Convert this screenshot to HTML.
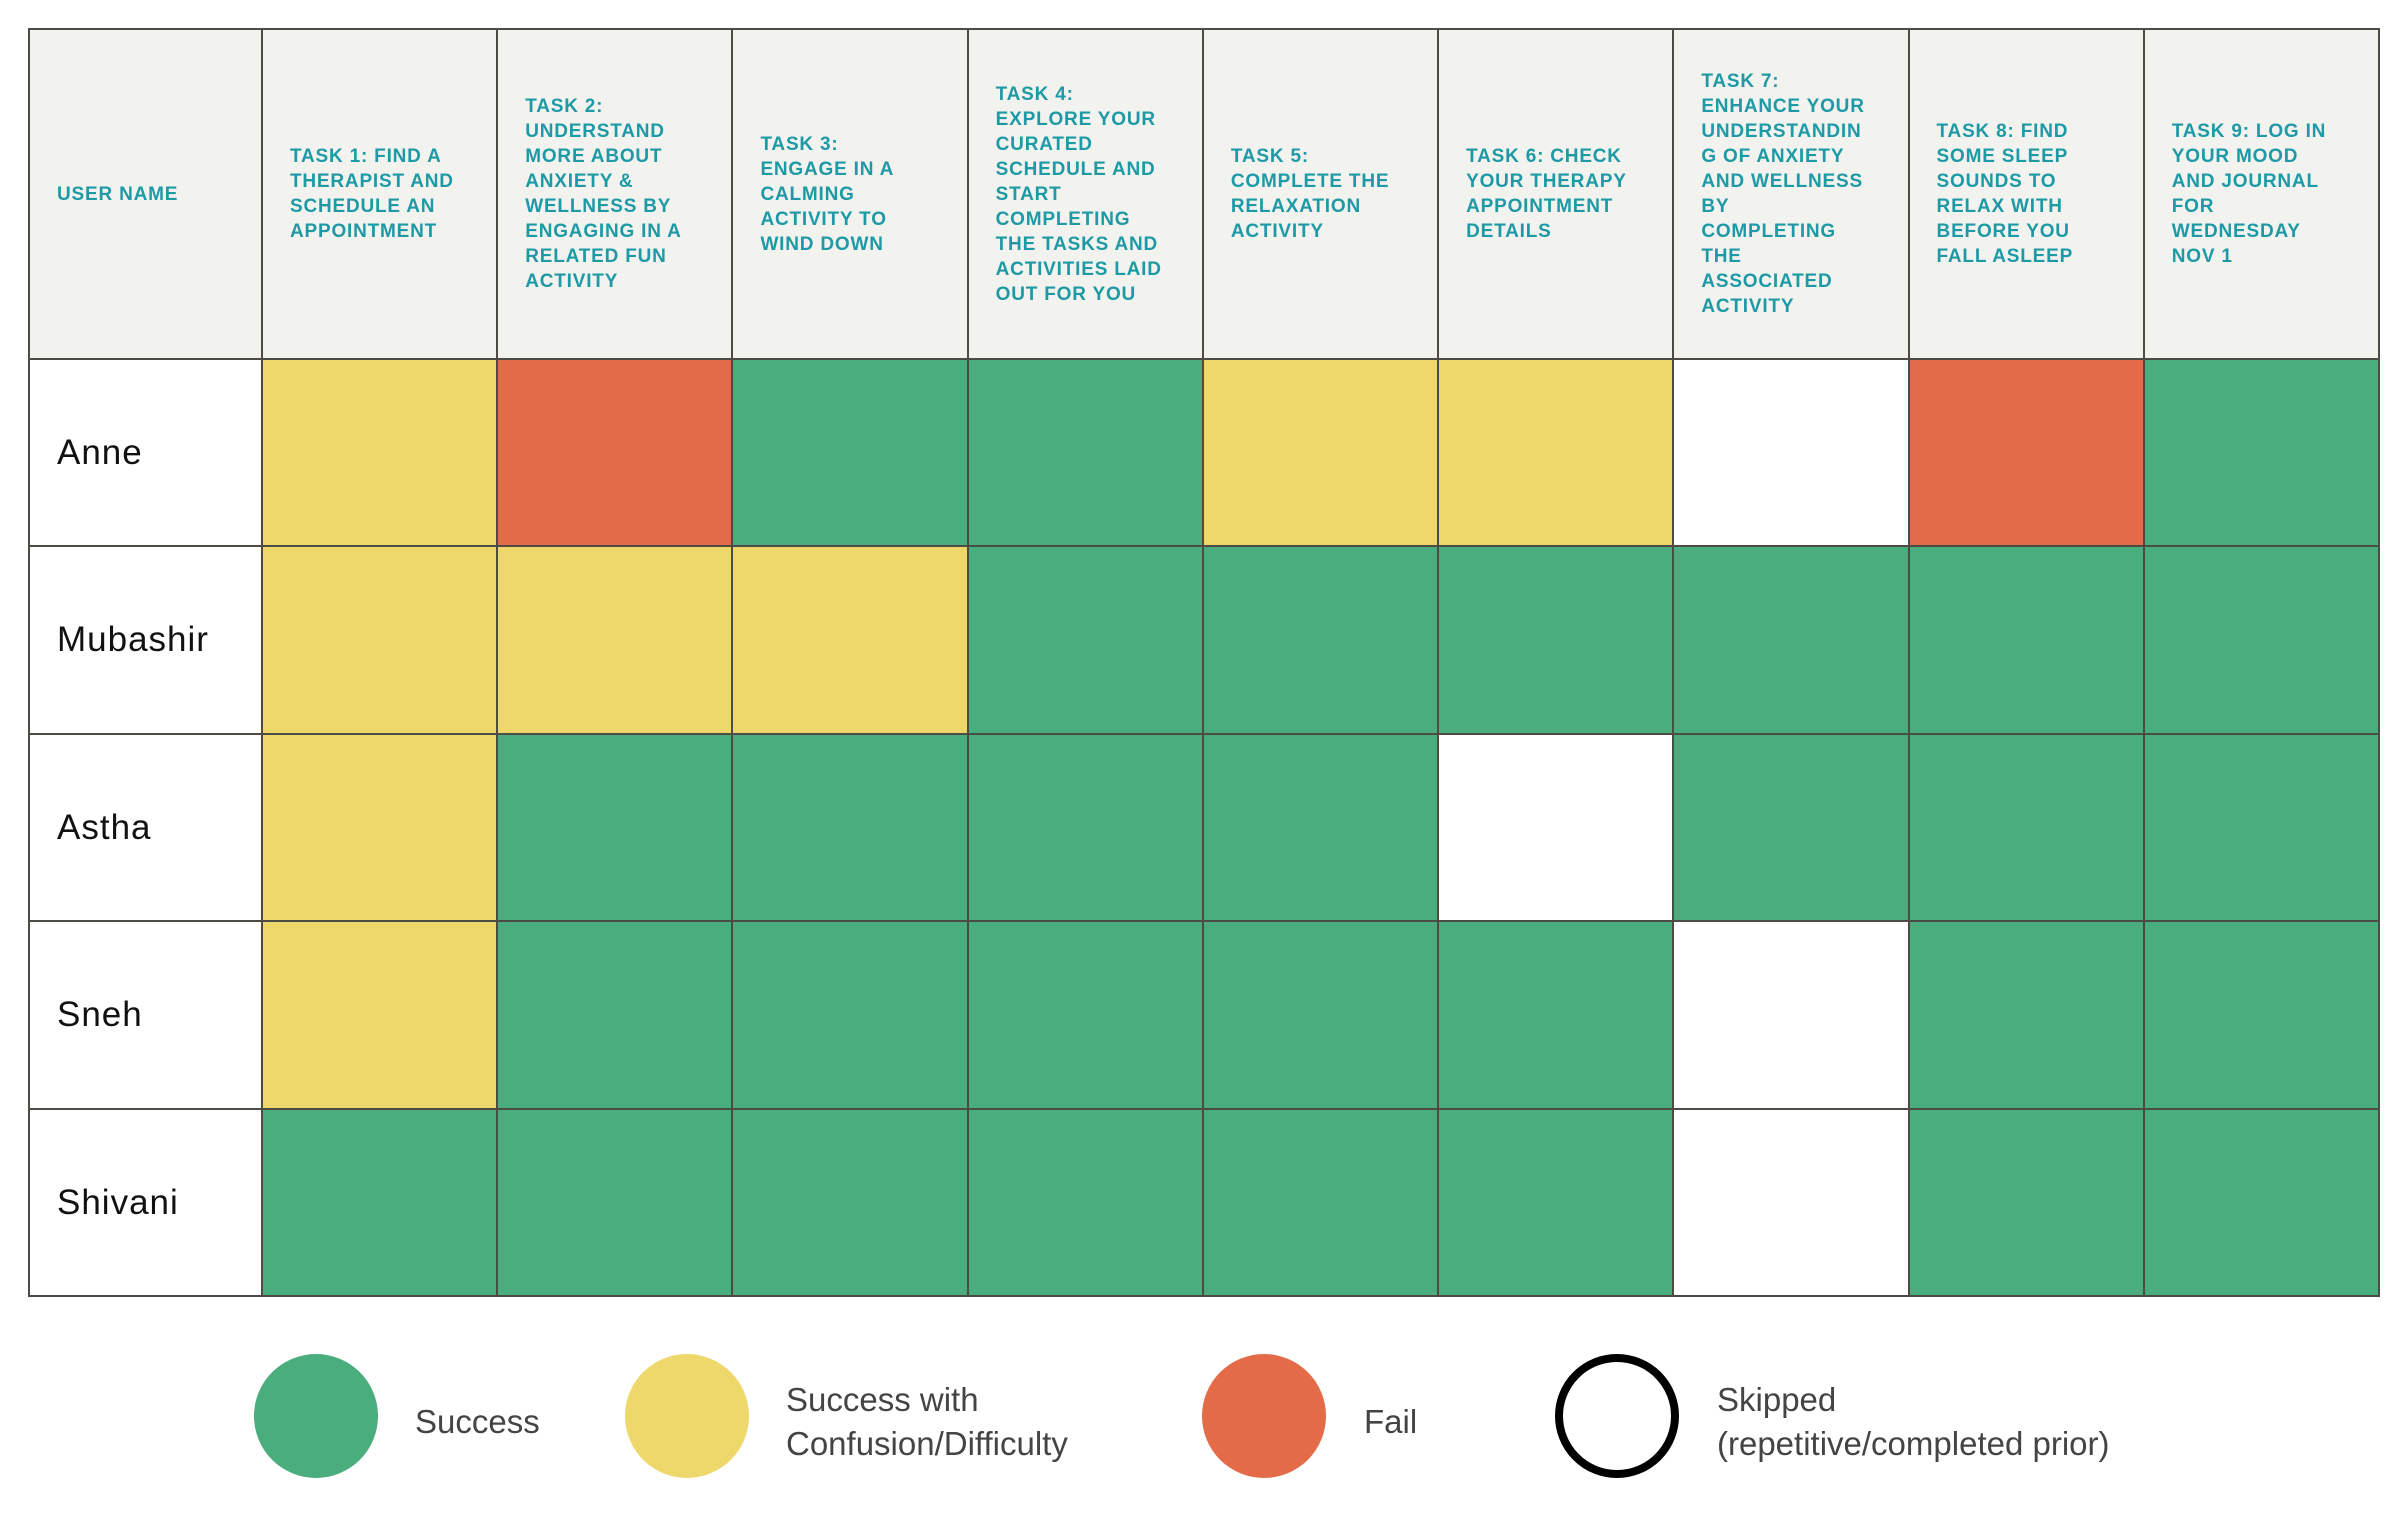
<!DOCTYPE html>
<html><head><meta charset="utf-8">
<style>
html,body{margin:0;padding:0;background:#fff;width:2408px;height:1534px;overflow:hidden;position:relative;font-family:"Liberation Sans",sans-serif}
#grid{position:absolute;left:0;top:0}
.cell{position:absolute;box-sizing:border-box;border:2.5px solid #4d4b44}
.hdr{background:#f2f2ee;display:flex;align-items:center;padding-left:27px;padding-right:4px;color:#1d9aa6;font-weight:bold;font-size:19px;line-height:25px;letter-spacing:0.8px;white-space:nowrap}
.name{background:#fff;display:flex;align-items:center;padding-left:27px;font-size:35px;letter-spacing:1px;color:#111}
.leg-dot{position:absolute;border-radius:50%;box-sizing:border-box}
.leg-txt{position:absolute;font-size:33px;line-height:44px;color:#444}
</style></head><body>
<div id="grid"></div>
<div class="leg-dot" style="left:254px;top:1354px;width:124px;height:124px;background:#4aad7e"></div>
<div class="leg-txt" style="left:415px;top:1400px">Success</div>
<div class="leg-dot" style="left:625px;top:1354px;width:124px;height:124px;background:#eed86b"></div>
<div class="leg-txt" style="left:786px;top:1378px">Success with<br>Confusion/Difficulty</div>
<div class="leg-dot" style="left:1202px;top:1354px;width:124px;height:124px;background:#e46b47"></div>
<div class="leg-txt" style="left:1364px;top:1400px">Fail</div>
<div class="leg-dot" style="left:1555px;top:1354px;width:124px;height:124px;border:8px solid #000;background:#fff"></div>
<div class="leg-txt" style="left:1717px;top:1378px">Skipped<br>(repetitive/completed prior)</div>
<script>
const users = ["Anne","Mubashir","Astha","Sneh","Shivani"];
const tasks = [
"TASK 1: FIND A<br>THERAPIST AND<br>SCHEDULE AN<br>APPOINTMENT",
"TASK 2:<br>UNDERSTAND<br>MORE ABOUT<br>ANXIETY &amp;<br>WELLNESS BY<br>ENGAGING IN A<br>RELATED FUN<br>ACTIVITY",
"TASK 3:<br>ENGAGE IN A<br>CALMING<br>ACTIVITY TO<br>WIND DOWN",
"TASK 4:<br>EXPLORE YOUR<br>CURATED<br>SCHEDULE AND<br>START<br>COMPLETING<br>THE TASKS AND<br>ACTIVITIES LAID<br>OUT FOR YOU",
"TASK 5:<br>COMPLETE THE<br>RELAXATION<br>ACTIVITY",
"TASK 6: CHECK<br>YOUR THERAPY<br>APPOINTMENT<br>DETAILS",
"TASK 7:<br>ENHANCE YOUR<br>UNDERSTANDIN<br>G OF ANXIETY<br>AND WELLNESS<br>BY<br>COMPLETING<br>THE<br>ASSOCIATED<br>ACTIVITY",
"TASK 8: FIND<br>SOME SLEEP<br>SOUNDS TO<br>RELAX WITH<br>BEFORE YOU<br>FALL ASLEEP",
"TASK 9: LOG IN<br>YOUR MOOD<br>AND JOURNAL<br>FOR<br>WEDNESDAY<br>NOV 1"];
// 0=success 1=confusion 2=fail 3=skipped
const outcomesAnne = [1,2,0,0,1,1,3,2,0];
const outcomesMubashir = [1,1,1,0,0,0,0,0,0];
const outcomesAstha = [1,0,0,0,0,3,0,0,0];
const outcomesSneh = [1,0,0,0,0,0,3,0,0];
const outcomesShivani = [0,0,0,0,0,0,3,0,0];
const outcomes = [outcomesAnne,outcomesMubashir,outcomesAstha,outcomesSneh,outcomesShivani];
const statusNames = ["success","confusion","fail","skipped"];

const colors = ["#4aad7e","#eed86b","#e46b47","#ffffff"];
const L=28,T=28,firstW=233,R=2378,hdrB=358,B=1295;
const colW=(R-L-firstW)/tasks.length, rowH=(B-hdrB)/users.length;
const xAt=i=>L+firstW+i*colW, yAt=j=>hdrB+j*rowH;
const g=document.getElementById('grid');
function box(x,y,w,h,cls){const d=document.createElement('div');d.className='cell '+cls;d.style.left=x+'px';d.style.top=y+'px';d.style.width=(w+2.5)+'px';d.style.height=(h+2.5)+'px';g.appendChild(d);return d;}
let h=box(L,T,firstW,hdrB-T,'hdr');h.textContent='USER NAME';


tasks.forEach((t,i)=>{const d=box(xAt(i),T,colW,hdrB-T,'hdr');d.innerHTML='<span>'+t+'</span>';

});
users.forEach((u,j)=>{const d=box(L,yAt(j),firstW,rowH,'name');d.textContent=u;


outcomes[j].forEach((v,i)=>{const c=box(xAt(i),yAt(j),colW,rowH,'');c.style.background=colors[v];

});});
</script>
</body></html>
